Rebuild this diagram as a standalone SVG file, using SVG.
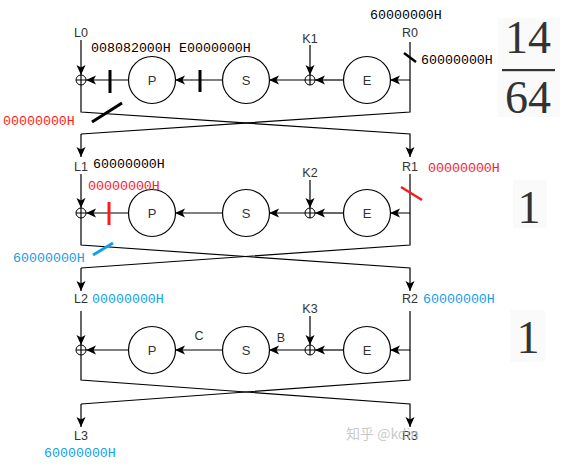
<svg xmlns="http://www.w3.org/2000/svg" width="572" height="466" viewBox="0 0 572 466">
<defs>
<marker id="ah" viewBox="0 0 10 10" refX="10" refY="5" markerWidth="10" markerHeight="10" markerUnits="userSpaceOnUse" orient="auto">
<path d="M0,0.5 L10,5 L0,9.5 L2.5,5 Z" fill="#000"/>
</marker>
<style>
.ln{fill:none;stroke:#000;stroke-width:1.2}
.ar{fill:none;stroke:#000;stroke-width:1.2;marker-end:url(#ah)}
.cir{fill:#fff;stroke:#000;stroke-width:1.2}
.xr{fill:#fff;stroke:#000;stroke-width:1}
.lab{font-family:"Liberation Sans",Arial,sans-serif;font-size:12.5px;fill:#333;text-anchor:middle}
.fn{font-family:"Liberation Sans",Arial,sans-serif;font-size:13px;fill:#333;text-anchor:middle;dominant-baseline:central}
.hex{font-family:"Liberation Mono","DejaVu Sans Mono",monospace;font-size:13.3px}
.blk{fill:#000}.red{fill:#ff1a1a}.blu{fill:#12a0ea}
.tk{stroke-width:3;stroke-linecap:butt}
.big{font-family:"Liberation Serif","DejaVu Serif",serif;font-size:46px;fill:#333;text-anchor:middle}
</style>
</defs>
<rect width="572" height="466" fill="#fff"/>

<g id="connectors">
<!-- round 1 -->
<path class="ar" d="M81,40 V75"/>
<path class="ar" d="M310,45 V75"/>
<path class="ar" d="M128,80 H86"/>
<path class="ar" d="M222,80 H175"/>
<path class="ar" d="M305,80 H269"/>
<path class="ar" d="M343,80 H315"/>
<path class="ar" d="M410,42 V80 H390"/>
<path class="ln" d="M410,80 V112 L81,134"/>
<path class="ar" d="M81,85 V112 L410,134 V157"/>
<path class="ar" d="M81,134 V157"/>
<!-- round 2 -->
<path class="ar" d="M81,174 V208"/>
<path class="ar" d="M310,180 V208"/>
<path class="ar" d="M128,213 H86"/>
<path class="ar" d="M222,213 H175"/>
<path class="ar" d="M305,213 H269"/>
<path class="ar" d="M343,213 H315"/>
<path class="ar" d="M410,174 V213 H390"/>
<path class="ln" d="M410,213 V245 L81,268"/>
<path class="ar" d="M81,218 V245 L410,268 V291"/>
<path class="ar" d="M81,268 V291"/>
<!-- round 3 -->
<path class="ar" d="M81,311 V345"/>
<path class="ar" d="M310,316 V345"/>
<path class="ar" d="M128,350 H86"/>
<path class="ar" d="M222,350 H175"/>
<path class="ar" d="M305,350 H269"/>
<path class="ar" d="M343,350 H315"/>
<path class="ar" d="M410,311 V350 H390"/>
<path class="ln" d="M410,350 V380 L81,404"/>
<path class="ar" d="M81,355 V380 L410,404 V427"/>
<path class="ar" d="M81,404 V427"/>
</g>

<g id="L0"><text class="lab" x="81" y="37">L0</text></g>
<g id="R0"><text class="lab" x="410" y="37">R0</text></g>
<g id="L1"><text class="lab" x="81" y="171">L1</text></g>
<g id="R1"><text class="lab" x="410" y="171">R1</text></g>
<g id="L2"><text class="lab" x="81" y="303">L2</text></g>
<g id="R2"><text class="lab" x="410" y="303">R2</text></g>
<g id="L3"><text class="lab" x="81" y="440">L3</text></g>
<g id="R3"><text class="lab" x="410" y="440">R3</text></g>
<g id="K1"><text class="lab" x="310" y="43">K1</text></g>
<g id="K2"><text class="lab" x="310" y="177">K2</text></g>
<g id="K3"><text class="lab" x="310" y="313">K3</text></g>

<g id="X1L"><circle class="xr" cx="81" cy="80" r="5"/><path class="ln" d="M76,80 H86 M81,75 V85"/></g>
<g id="X1K"><circle class="xr" cx="310" cy="80" r="5"/><path class="ln" d="M305,80 H315 M310,75 V85"/></g>
<g id="X2L"><circle class="xr" cx="81" cy="213" r="5"/><path class="ln" d="M76,213 H86 M81,208 V218"/></g>
<g id="X2K"><circle class="xr" cx="310" cy="213" r="5"/><path class="ln" d="M305,213 H315 M310,208 V218"/></g>
<g id="X3L"><circle class="xr" cx="81" cy="350" r="5"/><path class="ln" d="M76,350 H86 M81,345 V355"/></g>
<g id="X3K"><circle class="xr" cx="310" cy="350" r="5"/><path class="ln" d="M305,350 H315 M310,345 V355"/></g>

<g id="P1"><circle class="cir" cx="152" cy="80" r="23.5"/><text class="fn" x="152" y="80">P</text></g>
<g id="S1"><circle class="cir" cx="246" cy="80" r="23.5"/><text class="fn" x="246" y="80">S</text></g>
<g id="E1"><circle class="cir" cx="367" cy="80" r="23.5"/><text class="fn" x="367" y="80">E</text></g>
<g id="P2"><circle class="cir" cx="152" cy="213" r="23.5"/><text class="fn" x="152" y="213">P</text></g>
<g id="S2"><circle class="cir" cx="246" cy="213" r="23.5"/><text class="fn" x="246" y="213">S</text></g>
<g id="E2"><circle class="cir" cx="367" cy="213" r="23.5"/><text class="fn" x="367" y="213">E</text></g>
<g id="P3"><circle class="cir" cx="152" cy="350" r="23.5"/><text class="fn" x="152" y="350">P</text></g>
<g id="S3"><circle class="cir" cx="246" cy="350" r="23.5"/><text class="fn" x="246" y="350">S</text></g>
<g id="E3"><circle class="cir" cx="367" cy="350" r="23.5"/><text class="fn" x="367" y="350">E</text></g>

<g id="edge-labels">
<text class="lab" x="199" y="340">C</text>
<text class="lab" x="281" y="342">B</text>
</g>

<g id="annotations">
<path class="tk" stroke="#000" d="M110,70 V93 M200,70 V92 M92,122 L122,103"/>
<path stroke="#000" stroke-width="2.5" d="M404,53 L416,62"/>
<path class="tk" stroke="#ff1a1a" d="M109,202 V225"/>
<path stroke="#ff1a1a" stroke-width="2.5" d="M401,187 L422,200"/>
<path class="tk" stroke="#12a0ea" d="M93,255 L113,243"/>
<text class="hex blk" x="91" y="52">008082000H</text>
<text class="hex blk" x="179" y="52">E0000000H</text>
<text class="hex blk" x="370" y="19">60000000H</text>
<text class="hex blk" x="421" y="64">60000000H</text>
<text class="hex red" x="3" y="125">00000000H</text>
<text class="hex blk" x="93" y="168">60000000H</text>
<text class="hex red" x="88" y="190">00000000H</text>
<text class="hex red" x="428" y="172">00000000H</text>
<text class="hex blu" x="13" y="262">60000000H</text>
<text class="hex blu" x="92" y="303">00000000H</text>
<text class="hex blu" x="423" y="303">60000000H</text>
<text class="hex blu" x="44" y="457">60000000H</text>
</g>

<g id="scores">
<rect x="498" y="18" width="62" height="99" fill="#fafafa"/>
<text class="big" x="528" y="53">14</text>
<rect x="502" y="69" width="53" height="2.2" fill="#333"/>
<text class="big" x="528" y="113">64</text>
<rect x="513" y="180" width="34" height="48" fill="#fafafa"/>
<text class="big" x="529" y="223">1</text>
<rect x="510" y="310" width="35" height="52" fill="#fafafa"/>
<text class="big" x="528" y="353">1</text>
</g>

<g id="watermark"><text x="346" y="439" font-family="'Noto Sans CJK SC','Noto Sans',sans-serif" font-size="14" fill="#bbb" fill-opacity="0.8">知乎 @kdin</text></g>
</svg>
